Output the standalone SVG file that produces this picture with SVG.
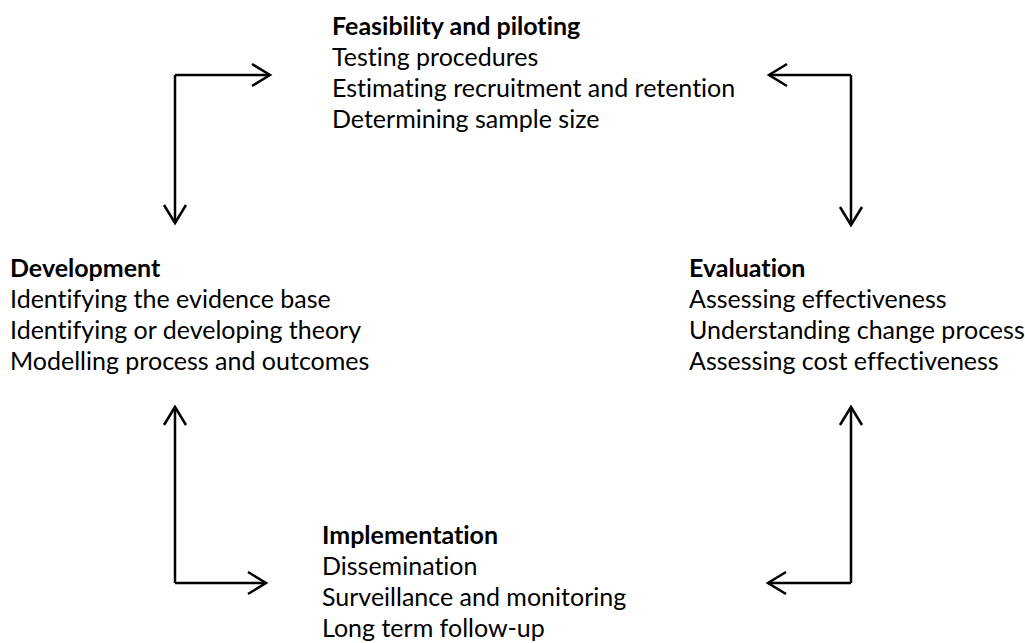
<svg xmlns="http://www.w3.org/2000/svg" width="1025" height="643" viewBox="0 0 1025 643">
  <style>
    text { font-family: Lato, "Open Sans", sans-serif; font-size: 25px; fill: #000; font-variant-ligatures: none; }
    .title { font-weight: bold; }
    .conn { fill: none; stroke: #000; stroke-width: 2.5; }
  </style>
  <defs>
    <marker id="head" markerUnits="userSpaceOnUse" markerWidth="24" markerHeight="26" refX="20" refY="12" orient="auto" overflow="visible">
      <path d="M2,1 L20,12 L2,23" fill="none" stroke="#000" stroke-width="2.5"/>
    </marker>
  </defs>
  <rect width="1025" height="643" fill="#fff"/>

  <g id="feasibility">
    <text x="332" y="35" class="title">Feasibility and piloting</text>
    <text x="332" y="66">Testing procedures</text>
    <text x="332" y="97">Estimating recruitment and retention</text>
    <text x="332" y="128">Determining sample size</text>
  </g>

  <g id="development">
    <text x="10" y="277" class="title">Development</text>
    <text x="10" y="308">Identifying the evidence base</text>
    <text x="10" y="339">Identifying or developing theory</text>
    <text x="10" y="370">Modelling process and outcomes</text>
  </g>

  <g id="evaluation">
    <text x="689" y="277" class="title">Evaluation</text>
    <text x="689" y="308">Assessing effectiveness</text>
    <text x="689" y="339">Understanding change process</text>
    <text x="689" y="370">Assessing cost effectiveness</text>
  </g>

  <g id="implementation">
    <text x="322" y="544" class="title">Implementation</text>
    <text x="322" y="575">Dissemination</text>
    <text x="322" y="606">Surveillance and monitoring</text>
    <text x="322" y="637">Long term follow-up</text>
  </g>

  <g id="connectors">
    <!-- feasibility <-> development -->
    <path class="conn" d="M175,75 L270,75" marker-end="url(#head)"/>
    <path class="conn" d="M175,75 L175,223" marker-end="url(#head)"/>
    <!-- feasibility <-> evaluation -->
    <path class="conn" d="M851,75 L769,75" marker-end="url(#head)"/>
    <path class="conn" d="M851,75 L851,225" marker-end="url(#head)"/>
    <!-- development <-> implementation -->
    <path class="conn" d="M175,583 L175,407" marker-end="url(#head)"/>
    <path class="conn" d="M175,583 L266,583" marker-end="url(#head)"/>
    <!-- evaluation <-> implementation -->
    <path class="conn" d="M851,583 L851,407" marker-end="url(#head)"/>
    <path class="conn" d="M851,583 L768,583" marker-end="url(#head)"/>
  </g>
</svg>
